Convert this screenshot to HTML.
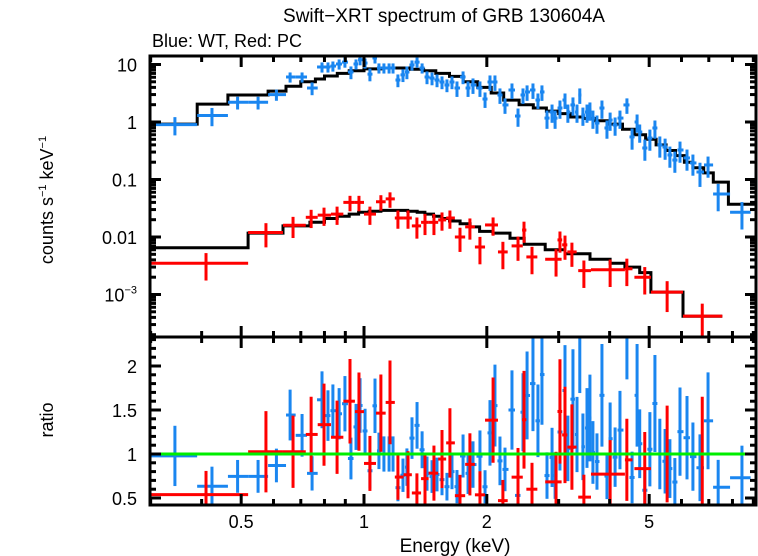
<!DOCTYPE html>
<html><head><meta charset="utf-8"><style>
html,body{margin:0;padding:0;background:#fff;}
svg{display:block;font-family:"Liberation Sans",sans-serif;}
</style></head><body>
<svg id="chart" width="758" height="556" viewBox="0 0 758 556">
<text x="444" y="22" font-size="19" text-anchor="middle">Swift−XRT spectrum of GRB 130604A</text>
<text x="152" y="47" font-size="18">Blue: WT, Red: PC</text>
<text transform="translate(53,200) rotate(-90)" font-size="18" text-anchor="middle">counts s<tspan font-size="11" dy="-7">−1</tspan><tspan dy="7"> keV</tspan><tspan font-size="11" dy="-7">−1</tspan></text>
<text transform="translate(53,420) rotate(-90)" font-size="18" text-anchor="middle">ratio</text>
<text x="455" y="552" font-size="19" text-anchor="middle">Energy (keV)</text>
<g id="gModel"></g><g id="gData"></g><g id="gRatio"></g><g id="gAxes"></g>
</svg>
<script>
// ---- data ----
const blueE=[0.344,0.424,0.49,0.55,0.61,0.659,0.705,0.746,0.789,0.816,0.839,0.869,0.898,0.929,0.956,0.978,1.006,1.034,1.064,1.088,1.119,1.152,1.178,1.211,1.246,1.274,1.311,1.349,1.388,1.427,1.468,1.51,1.553,1.597,1.643,1.69,1.749,1.799,1.85,1.924,1.98,2.036,2.094,2.154,2.216,2.305,2.385,2.453,2.51,2.595,2.669,2.73,2.809,2.89,2.94,3.022,3.109,3.16,3.252,3.327,3.38,3.44,3.52,3.579,3.64,3.724,3.83,3.94,4.011,4.125,4.24,4.41,4.54,4.67,4.74,4.88,5.02,5.165,5.31,5.47,5.62,5.78,5.95,6.19,6.40,6.66,6.97,7.38,8.44];
const blueV=[0.9,1.3,2.2,2.2,3.0,6.06,6.06,3.9,9.05,9.05,9.4,10.2,11.0,7.4,10.2,12.1,10.6,6.8,13.0,8.7,8.7,8.7,8.7,5.37,6.6,7.4,9.8,11.0,8.7,6.06,5.8,5.37,4.96,4.4,4.96,3.9,6.06,3.9,4.4,3.9,2.51,4.96,4.96,2.95,1.98,3.6,1.27,2.95,3.33,3.6,2.41,3.33,1.17,1.49,1.17,1.75,2.41,1.49,1.98,1.49,2.95,1.32,1.49,1.62,1.17,0.96,1.75,0.787,1.08,0.887,1.17,1.98,0.55,1.0,0.67,0.353,0.527,0.787,0.40,0.367,0.267,0.218,0.326,0.237,0.194,0.135,0.179,0.056,0.027];
const blueRelErr=[0.35,0.35,0.25,0.25,0.22,0.2,0.2,0.25,0.2,0.2,0.2,0.2,0.2,0.25,0.2,0.2,0.2,0.25,0.2,0.2,0.2,0.2,0.2,0.25,0.25,0.25,0.2,0.2,0.2,0.25,0.25,0.25,0.25,0.25,0.25,0.3,0.25,0.3,0.3,0.3,0.3,0.3,0.3,0.3,0.3,0.3,0.35,0.3,0.3,0.3,0.3,0.3,0.35,0.35,0.35,0.35,0.3,0.35,0.35,0.35,0.3,0.35,0.35,0.35,0.35,0.35,0.35,0.35,0.35,0.35,0.35,0.3,0.4,0.35,0.35,0.4,0.4,0.35,0.4,0.4,0.4,0.4,0.4,0.4,0.4,0.45,0.4,0.5,0.5];
const blueLo=[0.299,0.39,0.464,0.52,0.582,0.644,0.68,0.725];
const blueHi=[0.39,0.464,0.52,0.582,0.644,0.68,0.725,0.77];
const redE=[0.41,0.575,0.67,0.742,0.798,0.859,0.924,0.972,1.034,1.10,1.158,1.211,1.282,1.348,1.411,1.484,1.553,1.624,1.719,1.818,1.924,2.072,2.19,2.385,2.467,2.581,2.956,3.022,3.109,3.233,3.459,4.011,4.408,4.877,5.533,6.746];
const redLo=[0.299,0.52,0.633,0.72,0.77,0.83,0.89,0.95,1.0,1.07,1.13,1.19,1.25,1.31,1.38,1.44,1.52,1.59,1.67,1.77,1.87,1.98,2.13,2.30,2.44,2.50,2.78,2.98,3.06,3.15,3.35,3.6,4.36,4.6,5.05,6.05];
const redHi=[0.52,0.633,0.72,0.77,0.83,0.89,0.95,1.0,1.07,1.13,1.19,1.25,1.31,1.38,1.44,1.52,1.59,1.67,1.77,1.87,1.98,2.13,2.25,2.45,2.50,2.66,3.05,3.06,3.15,3.32,3.6,4.36,4.55,5.05,6.05,7.555];
const redV=[0.0035,0.012,0.016,0.022,0.024,0.025,0.04,0.04,0.025,0.041,0.046,0.0214,0.0214,0.0156,0.018,0.018,0.0198,0.0214,0.010,0.015,0.0067,0.0162,0.0055,0.0070,0.0132,0.0045,0.0041,0.0089,0.0073,0.0055,0.0026,0.0027,0.0028,0.0020,0.0011,0.00042];
const redRelErr=[0.5,0.45,0.4,0.35,0.35,0.35,0.3,0.3,0.35,0.3,0.3,0.35,0.35,0.4,0.4,0.4,0.35,0.35,0.45,0.4,0.5,0.35,0.5,0.45,0.4,0.5,0.5,0.4,0.45,0.45,0.5,0.5,0.5,0.5,0.55,0.65];
const blueModelEdges=[0.299,0.39,0.464,0.582,0.644,0.70,0.76,0.80,0.86,0.92,1.0,1.1,1.2,1.3,1.4,1.5,1.62,1.75,1.9,2.05,2.2,2.4,2.6,2.8,3.0,3.2,3.45,3.7,4.0,4.3,4.6,4.9,5.2,5.5,5.8,6.1,6.4,6.8,7.18,7.82,9.14];
const blueModelV=[0.92,2.05,2.95,3.45,4.2,5.0,5.6,6.3,7.0,7.8,8.4,8.7,8.7,8.3,7.8,7.0,6.2,5.0,4.0,3.2,2.4,2.0,1.75,1.55,1.4,1.22,1.15,1.05,0.92,0.75,0.6,0.5,0.4,0.32,0.26,0.2,0.16,0.13,0.09,0.037];
const redModelEdges=[0.299,0.52,0.633,0.737,0.80,0.86,0.92,0.97,1.03,1.10,1.16,1.21,1.28,1.35,1.41,1.48,1.55,1.62,1.72,1.82,1.92,2.07,2.28,2.47,2.78,3.11,3.58,4.01,4.36,4.74,5.05,6.05,7.555];
const redModelV=[0.0065,0.0117,0.0156,0.018,0.021,0.023,0.025,0.027,0.028,0.029,0.029,0.029,0.028,0.027,0.025,0.023,0.021,0.019,0.017,0.015,0.0125,0.0117,0.0095,0.0075,0.006,0.0051,0.0041,0.0035,0.003,0.0024,0.0011,0.00042];
const xMajor=[0.5,1,2,5];
const xMinor=[0.3,0.4,0.6,0.7,0.8,0.9,3,4,6,7,8,9];
const yTopLabels=["10","1","0.1","0.01"];
const yTopVals=[10,1,0.1,0.01];
const ratioTicks=[0.5,1,1.5,2];
const ratioLabels=["0.5","1","1.5","2"];

// ---- axes ----
const L=150,R=756,T1=56,B1=337,B2=505;
const xs=e=>364+408*Math.log10(e);
const ys=v=>122-57.5*Math.log10(v);
const yr=r=>454-88*(r-1);
const NS="http://www.w3.org/2000/svg";
function mk(tag,parent,attrs){const el=document.createElementNS(NS,tag);for(const k in attrs)el.setAttribute(k,attrs[k]);parent.appendChild(el);return el;}
const gModel=document.getElementById('gModel'),gData=document.getElementById('gData'),gRatio=document.getElementById('gRatio'),gAxes=document.getElementById('gAxes');
const BLUE="#1a86f0",RED="#ff0000";
const clampT=y=>Math.max(T1,Math.min(B1,y));
const clampB=y=>Math.max(B1,Math.min(B2,y));

function modelAt(edges,vals,e){for(let i=0;i<vals.length;i++){if(e>=edges[i]&&e<=edges[i+1])return vals[i];}return null;}

function stepPath(edges,vals){let d="";for(let i=0;i<vals.length;i++){const y=clampT(ys(vals[i]));d+=(i===0?"M":"L")+xs(edges[i]).toFixed(1)+","+y.toFixed(1)+"L"+xs(edges[i+1]).toFixed(1)+","+y.toFixed(1);}return d;}
let p=mk('path',gModel,{d:stepPath(blueModelEdges,blueModelV),fill:"none",stroke:"#000","stroke-width":3});


p=mk('path',gModel,{d:stepPath(redModelEdges,redModelV),fill:"none",stroke:"#000","stroke-width":3});



function bins(E,lo,hi){const l=[],h=[];for(let i=0;i<E.length;i++){if(lo[i]!==undefined){l.push(lo[i]);h.push(hi[i]);}else{l.push(Math.sqrt(E[i]*E[i-1]));h.push(i+1<E.length?Math.sqrt(E[i]*E[i+1]):E[i]*1.05);}}return [l,h];}

function drawSeries(E,V,rel,lo,hi,color,edges,mv,name){
  const [l,h]=bins(E,lo,hi);
  for(let i=0;i<E.length;i++){
    const x=xs(E[i]),y=ys(V[i]);
    const g=mk('g',gData,{stroke:color,"stroke-width":3});
    
    
    mk('line',g,{x1:xs(l[i]),x2:xs(h[i]),y1:y,y2:y});
    mk('line',g,{x1:x,x2:x,y1:clampT(ys(V[i]*(1+rel[i]))),y2:clampT(ys(V[i]*(1-rel[i])))});
    const m=modelAt(edges,mv,E[i]);if(!m)continue;
    const r=V[i]/m,yy=yr(r);
    const g2=mk('g',gRatio,{stroke:color,"stroke-width":3});
    
    
    if(yy>=B1&&yy<=B2)mk('line',g2,{x1:xs(l[i]),x2:xs(h[i]),y1:yy,y2:yy});
    mk('line',g2,{x1:x,x2:x,y1:clampB(yr(r*(1+rel[i]))),y2:clampB(yr(r*(1-rel[i])))});
  }
}
drawSeries(blueE,blueV,blueRelErr,blueLo,blueHi,BLUE,blueModelEdges,blueModelV,'wt');
drawSeries(redE,redV,redRelErr,redLo,redHi,RED,redModelEdges,redModelV,'pc');

let gl=mk('line',gRatio,{x1:L,x2:R,y1:yr(1),y2:yr(1),stroke:"#00ee00","stroke-width":3});



// frames
let fr=mk('rect',gAxes,{x:L,y:T1,width:R-L,height:B1-T1,fill:"none",stroke:"#000","stroke-width":3});


fr=mk('rect',gAxes,{x:L,y:B1,width:R-L,height:B2-B1,fill:"none",stroke:"#000","stroke-width":3});


function tick(x1,y1,x2,y2){mk('line',gAxes,{x1,y1,x2,y2,stroke:"#000","stroke-width":3});}
// x ticks
[[T1,1],[B1,-1],[B1,1],[B2,-1]].forEach(([y0,dir])=>{
  xMajor.forEach(e=>tick(xs(e),y0,xs(e),y0+dir*11));
  xMinor.forEach(e=>{const x=xs(e);if(x>L&&x<R)tick(x,y0,x,y0+dir*6);});
});
xMajor.forEach(e=>{const t=mk('text',gAxes,{x:xs(e),y:528,"font-size":18,"text-anchor":"middle"});t.textContent=String(e);

});
// top y ticks
for(let d=-4;d<=1;d++){for(let k=1;k<10;k++){const v=k*Math.pow(10,d);const y=ys(v);if(y<T1||y>B1)continue;const len=k===1?11:6;tick(L,y,L+len,y);tick(R,y,R-len,y);}}
yTopVals.forEach((v,i)=>{const t=mk('text',gAxes,{x:137,y:ys(v)+7,"font-size":18,"text-anchor":"end"});t.textContent=yTopLabels[i];

});
{const t=mk('text',gAxes,{x:137,y:ys(0.001)+7,"font-size":18,"text-anchor":"end"});t.innerHTML='10<tspan font-size="11" dy="-8">−3</tspan>';

}
// ratio ticks
for(let r=0.5;r<=2.31;r+=0.1){const y=yr(r);const maj=Math.abs(r*2-Math.round(r*2))<0.01;const len=maj?11:6;tick(L,y,L+len,y);tick(R,y,R-len,y);}
ratioTicks.forEach((r,i)=>{const t=mk('text',gAxes,{x:137,y:yr(r)+7,"font-size":18,"text-anchor":"end"});t.textContent=ratioLabels[i];

});
</script>
</body></html>
